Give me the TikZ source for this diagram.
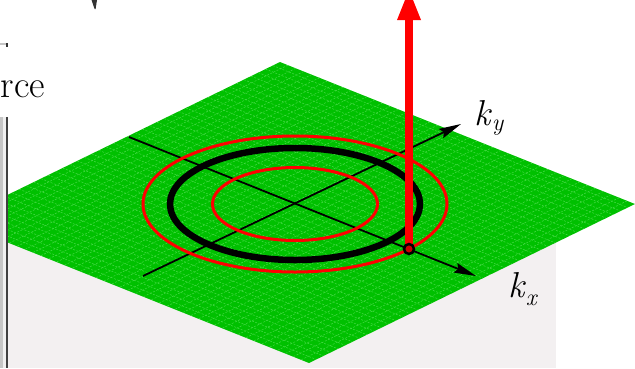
\documentclass[tikz,border=0pt]{standalone}
\usetikzlibrary{calc,arrows.meta}
\definecolor{plane}{RGB}{0,192,0}
\definecolor{mesh}{RGB}{70,218,70}
\definecolor{bgpanel}{RGB}{243,240,241}
\tikzset{
  axisline/.style={line width=1.8pt,-{Stealth[length=22pt,width=10pt,inset=3pt]}},
  redring/.style={red,line width=3pt},
  blackring/.style={black,line width=6.5pt},
  klabel/.style={anchor=base west,inner sep=0pt,font=\fontsize{36}{40}\selectfont},
}
\newcommand{\subtxt}[1]{{\fontsize{24}{24}\selectfont\itshape #1}}
\begin{document}
\begin{tikzpicture}[x=1pt,y=-1pt]
\clip (0,0) rectangle (635,368);
\fill[white] (0,0) rectangle (635,368);
% light panel behind plane
\fill[bgpanel] (8,210) rectangle (556,368);
% plane
\coordinate (T) at (280,62);
\coordinate (R) at (635,204);
\coordinate (B) at (309,363);
\coordinate (L) at (-46,221);
\fill[plane] (T) -- (R) -- (B) -- (L) -- cycle;
\begin{scope}
\clip (T) -- (R) -- (B) -- (L) -- cycle;
\foreach \i in {1,...,44}{
  \draw[mesh,line width=0.5pt,dash pattern=on 2pt off 1.5pt] ($(T)!\i/45!(L)$) -- ($(R)!\i/45!(B)$);
  \draw[mesh,line width=0.5pt,dash pattern=on 2pt off 1.5pt] ($(T)!\i/45!(R)$) -- ($(L)!\i/45!(B)$);
}
\end{scope}
% axes
\coordinate (kxs) at (129,137);
\coordinate (kxe) at (476,276);
\coordinate (kys) at (143,276);
\coordinate (kye) at (461,124);
\draw[axisline] (kxs) -- (kxe);
\draw[axisline] (kys) -- (kye);
% rings
\coordinate (O) at (295,204);
\draw[redring] (O) ellipse [x radius=152, y radius=68];
\draw[blackring] (O) ellipse [x radius=125, y radius=56];
\draw[redring] (O) ellipse [x radius=82.5, y radius=36.5];
% red vector
\coordinate (P) at (409,249);
\coordinate (H) at (409,20);
\fill[red] ($(P)+(-4,0)$) rectangle ($(H)+(4,0)$);
\fill[red] ($(H)+(-12,0)$) -- ($(H)+(12,0)$) -- ($(H)+(0,-30)$) -- cycle;
\filldraw[fill=red!80!black,draw=black,line width=2.5pt] (P) circle (5);
% labels
\node[klabel] (ky) at (474,125) {\textit{k}\raisebox{-5pt}{\subtxt{y}}};
\node[klabel] (kx) at (508,297) {\textit{k}\raisebox{-8pt}{\subtxt{x}}};
\node[klabel,font=\fontsize{38}{42}\selectfont] (rce) at (0.5,97) {rce};
% window edge on the left
\fill[gray!45] (0,117) rectangle (2.5,368);
\fill[gray!12] (2.5,117) rectangle (5.5,368);
\fill[black!75] (5.5,117) rectangle (8,368);
\fill[gray!45] (0,43) rectangle (6,44.5);
\fill[black!80] (6,43) rectangle (8,46.5);
% fragment of a root sign at the top
\fill[black!80] (91.5,0) -- (97,0) -- (95.6,9) -- (94.6,9) -- cycle;
\end{tikzpicture}
\end{document}
